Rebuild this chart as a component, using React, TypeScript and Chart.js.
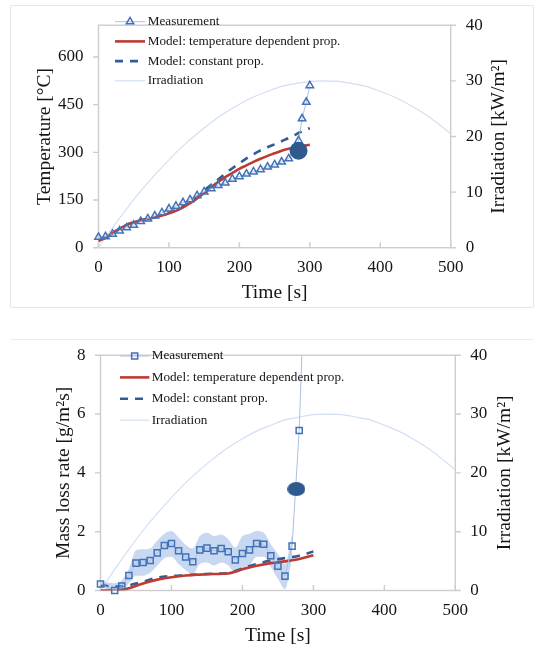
import React, { useEffect, useRef } from "react";
import { Chart, registerables } from "chart.js";

Chart.register(...registerables);

// ---------------- shared text / ticks ----------------
const timeTitle = "Time [s]";
const irradiationTitle = "Irradiation [kW/m²]";
const temperatureTitle = "Temperature [°C]";
const massLossTitle = "Mass loss rate [g/m²s]";
const legendLabels = [
  "Measurement",
  "Model: temperature dependent prop.",
  "Model: constant prop.",
  "Irradiation",
];

const timeTicks = [0, 100, 200, 300, 400, 500];
const irradiationTicks = [0, 10, 20, 30, 40];
const temperatureTicks = [0, 150, 300, 450, 600];
const massLossTicks = [0, 2, 4, 6, 8];

// ---------------- irradiation (both panels) ----------------
const irradiationTime = [0, 20, 40, 60, 80, 100, 120, 140, 160, 180, 200, 220, 240, 260, 280, 300, 320, 340, 360, 380, 400, 420, 440, 460, 480, 500];
const irradiationValue = [0, 3.6, 7.0, 10.2, 13.1, 15.8, 18.3, 20.5, 22.5, 24.3, 25.8, 27.1, 28.1, 29.0, 29.5, 29.9, 30.0, 29.9, 29.5, 29.0, 28.1, 27.1, 25.8, 24.3, 22.5, 20.5];

// ---------------- top panel: temperature ----------------
const tempMeasTime = [0, 10, 20, 30, 40, 50, 60, 70, 80, 90, 100, 110, 120, 130, 140, 150, 160, 170, 180, 190, 200, 210, 220, 230, 240, 250, 260, 270, 284, 289, 295, 300];
const tempMeasValue = [33, 35, 43, 53, 63, 71, 83, 91, 100, 110, 122, 131, 142, 151, 164, 176, 186, 196, 204, 216, 224, 232, 239, 246, 254, 261, 270, 280, 337, 406, 458, 510];

const tempModelTime = [0, 10, 20, 30, 40, 50, 60, 70, 80, 90, 100, 110, 120, 130, 140, 150, 160, 170, 180, 190, 200, 210, 220, 230, 240, 250, 260, 270, 280, 290, 300];
const tempModelDependent = [22, 32, 45, 60, 72, 80, 86, 90, 95, 101, 108, 116, 127, 140, 155, 172, 190, 207, 222, 235, 248, 259, 270, 280, 289, 297, 305, 311, 316, 320, 324];
const tempModelConstant = [22, 32, 45, 60, 72, 80, 86, 91, 96, 102, 110, 119, 130, 144, 160, 180, 198, 215, 233, 250, 265, 281, 294, 306, 316, 325, 335, 345, 356, 368, 376];

const tempIgnitionTime = [284];
const tempIgnitionValue = [305];

// ---------------- bottom panel: mass loss rate ----------------
const mlrMeasTime = [0, 20, 30, 40, 50, 60, 70, 80, 90, 100, 110, 120, 130, 140, 150, 160, 170, 180, 190, 200, 210, 220, 230, 240, 250, 260, 270, 280, 290];
const mlrMeasValue = [0.22, 0.0, 0.15, 0.51, 0.93, 0.95, 1.02, 1.28, 1.53, 1.6, 1.35, 1.14, 0.98, 1.38, 1.44, 1.35, 1.43, 1.32, 1.04, 1.26, 1.38, 1.6, 1.57, 1.18, 0.83, 0.49, 1.51, 5.44, 12.2];

const mlrBandTime = [0, 20, 30, 40, 50, 60, 70, 80, 90, 100, 110, 120, 130, 140, 150, 160, 170, 180, 190, 200, 210, 220, 230, 240, 250, 260, 270];
const mlrBandUpper = [0.3, 0.25, 0.35, 0.74, 1.37, 1.4, 1.43, 1.7, 1.93, 2.02, 1.8, 1.55, 1.43, 1.85, 1.96, 1.85, 1.9, 1.74, 1.46, 1.85, 1.93, 2.02, 1.96, 1.57, 1.24, 0.9, 1.9];
const mlrBandLower = [0.12, 0.0, 0.0, 0.25, 0.5, 0.5, 0.6, 0.85, 1.1, 1.15, 0.9, 0.7, 0.55, 0.9, 0.95, 0.85, 0.95, 0.85, 0.6, 0.7, 0.85, 1.15, 1.15, 0.8, 0.4, 0.05, 1.1];

const mlrModelTime = [0, 20, 40, 60, 80, 100, 120, 140, 160, 180, 200, 220, 240, 260, 280, 300];
const mlrModelDependent = [0.0, 0.0, 0.08, 0.24, 0.37, 0.45, 0.51, 0.54, 0.56, 0.58, 0.72, 0.84, 0.93, 0.99, 1.07, 1.2];
const mlrModelConstant = [0.18, 0.13, 0.18, 0.3, 0.44, 0.49, 0.52, 0.55, 0.57, 0.59, 0.75, 0.9, 1.02, 1.1, 1.18, 1.33];

const mlrIgnitionTime = [276];
const mlrIgnitionValue = [3.45];

// ---------------- styling ----------------
const FONT = "'Liberation Serif', 'Times New Roman', Times, serif";
const TEXT = "#151515";
const AXIS = "#cdcdcd";
const C_MEAS_LINE = "#a9c0e6";
const C_MEAS_MARK = "#4272b8";
const C_RED = "#bf3a33";
const C_DASH = "#2f5d98";
const C_IRR = "#d3dff2";
const C_IGN = "#2e5a8e";
const C_BAND = "rgba(186,206,236,0.8)";

const pts = (xs: number[], ys: number[]) => xs.map((x, i) => ({ x, y: ys[i] }));

function drawMarker(ctx: CanvasRenderingContext2D, style: string, x: number, y: number, r: number, color: string, lw: number) {
  ctx.save();
  ctx.strokeStyle = color;
  ctx.lineWidth = lw;
  ctx.beginPath();
  if (style === "triangle") {
    ctx.moveTo(x, y - r);
    ctx.lineTo(x + 0.866 * r, y + 0.5 * r);
    ctx.lineTo(x - 0.866 * r, y + 0.5 * r);
    ctx.closePath();
  } else {
    const s = Math.SQRT1_2 * r;
    ctx.rect(x - s, y - s, 2 * s, 2 * s);
  }
  ctx.stroke();
  ctx.restore();
}

type Decor = {
  frame: number[][];
  frameColor: string;
  tickLen: number;
  rightTitle: string;
  rightTitleX: number;
  legend: { x0: number; x1: number; textX: number; y0: number; gap: number; size: number };
};

function makeDecor(d: Decor) {
  return {
    id: "decor",
    beforeDatasetsDraw(chart: any) {
      const { ctx, chartArea: a, scales } = chart;
      ctx.save();
      ctx.setLineDash([]);
      ctx.strokeStyle = d.frameColor;
      ctx.lineWidth = 1;
      ctx.beginPath();
      d.frame.forEach((s) => {
        ctx.moveTo(s[0], s[1]);
        ctx.lineTo(s[2], s[3]);
      });
      ctx.stroke();
      ctx.strokeStyle = AXIS;
      ctx.lineWidth = 1.4;
      ctx.strokeRect(a.left, a.top, a.right - a.left, a.bottom - a.top);
      ctx.beginPath();
      scales.x.ticks.forEach((t: any) => {
        const px = scales.x.getPixelForValue(t.value);
        ctx.moveTo(px, a.bottom);
        ctx.lineTo(px, a.bottom - d.tickLen);
      });
      scales.y.ticks.forEach((t: any) => {
        const py = scales.y.getPixelForValue(t.value);
        ctx.moveTo(a.left - d.tickLen, py);
        ctx.lineTo(a.left, py);
      });
      scales.y1.ticks.forEach((t: any) => {
        const py = scales.y1.getPixelForValue(t.value);
        ctx.moveTo(a.right, py);
        ctx.lineTo(a.right + d.tickLen, py);
      });
      ctx.stroke();
      ctx.restore();
    },
    afterDraw(chart: any) {
      const { ctx, chartArea: a } = chart;
      // right axis title (reads bottom to top)
      ctx.save();
      ctx.translate(d.rightTitleX, (a.top + a.bottom) / 2);
      ctx.rotate(-Math.PI / 2);
      ctx.fillStyle = TEXT;
      ctx.font = `19.5px ${FONT}`;
      ctx.textAlign = "center";
      ctx.textBaseline = "middle";
      ctx.fillText(d.rightTitle, 0, 0);
      ctx.restore();
      // legend inside plot area
      const L = d.legend;
      const items = chart.data.datasets.filter((ds: any) => ds.legend);
      items.forEach((ds: any, i: number) => {
        const y = L.y0 + i * L.gap;
        ctx.save();
        ctx.strokeStyle = ds.borderColor;
        ctx.lineWidth = ds.borderWidth;
        ctx.setLineDash(ds.borderDash || []);
        ctx.beginPath();
        ctx.moveTo(L.x0, y);
        ctx.lineTo(L.x1, y);
        ctx.stroke();
        ctx.setLineDash([]);
        if (ds.pointRadius > 0 && typeof ds.pointStyle === "string") {
          drawMarker(ctx, ds.pointStyle, (L.x0 + L.x1) / 2, y, ds.pointRadius, ds.pointBorderColor, ds.pointBorderWidth);
        }
        ctx.fillStyle = TEXT;
        ctx.font = `${L.size}px ${FONT}`;
        ctx.textAlign = "left";
        ctx.textBaseline = "middle";
        ctx.fillText(ds.label, L.textX, y);
        ctx.restore();
      });
    },
  };
}

type Panel = {
  height: number;
  padTop: number;
  leftWidth: number;
  rightWidth: number;
  xHeight: number;
  yMax: number;
  yTicks: number[];
  yTitle: string;
  yTitlePad: number;
  xTitlePad: number;
  datasets: any[];
  decor: Decor;
};

function buildConfig(p: Panel): any {
  const tickFont = { family: FONT, size: 17 };
  const titleFont = { family: FONT, size: 19.5 };
  const setTicks = (vals: number[]) => (s: any) => {
    s.ticks = vals.map((v) => ({ value: v }));
  };
  return {
    type: "line",
    data: { datasets: p.datasets },
    plugins: [makeDecor(p.decor)],
    options: {
      animation: false,
      responsive: false,
      devicePixelRatio: 1,
      events: [],
      layout: { padding: { top: p.padTop, left: 0, right: 0, bottom: 0 } },
      plugins: { legend: { display: false }, tooltip: { enabled: false } },
      scales: {
        x: {
          type: "linear",
          position: "bottom",
          min: 0,
          max: 500,
          afterBuildTicks: setTicks(timeTicks),
          afterFit: (s: any) => {
            s.height = p.xHeight;
          },
          grid: { display: false, drawTicks: false },
          border: { display: false },
          ticks: { font: tickFont, color: TEXT, padding: 10, autoSkip: false, maxRotation: 0 },
          title: { display: true, text: timeTitle, font: titleFont, color: TEXT, padding: { top: 0, bottom: p.xTitlePad } },
        },
        y: {
          type: "linear",
          position: "left",
          min: 0,
          max: p.yMax,
          afterBuildTicks: setTicks(p.yTicks),
          afterFit: (s: any) => {
            s.width = p.leftWidth;
          },
          grid: { display: false, drawTicks: false },
          border: { display: false },
          ticks: { font: tickFont, color: TEXT, padding: 15 },
          title: { display: true, text: p.yTitle, font: titleFont, color: TEXT, padding: { top: p.yTitlePad, bottom: 0 } },
        },
        y1: {
          type: "linear",
          position: "right",
          min: 0,
          max: 40,
          afterBuildTicks: setTicks(irradiationTicks),
          afterFit: (s: any) => {
            s.width = p.rightWidth;
          },
          grid: { display: false, drawTicks: false },
          border: { display: false },
          ticks: { font: tickFont, color: TEXT, padding: 15 },
        },
      },
    },
  };
}

function measurementDataset(xs: number[], ys: number[], style: string, clip: any) {
  return {
    label: legendLabels[0],
    legend: true,
    data: pts(xs, ys),
    borderColor: C_MEAS_LINE,
    borderWidth: 1,
    pointStyle: style,
    pointRadius: 4.3,
    pointBorderColor: C_MEAS_MARK,
    pointBorderWidth: 1.5,
    pointBackgroundColor: "rgba(255,255,255,0)",
    tension: 0,
    clip,
  };
}

function modelDatasets(xs: number[], dep: number[], cons: number[]) {
  return [
    {
      label: legendLabels[1],
      legend: true,
      data: pts(xs, dep),
      borderColor: C_RED,
      borderWidth: 2.6,
      pointRadius: 0,
      cubicInterpolationMode: "monotone",
    },
    {
      label: legendLabels[2],
      legend: true,
      data: pts(xs, cons),
      borderColor: C_DASH,
      borderWidth: 2.6,
      borderDash: [8, 7],
      pointRadius: 0,
      cubicInterpolationMode: "monotone",
    },
  ];
}

function irradiationDataset() {
  return {
    label: legendLabels[3],
    legend: true,
    data: pts(irradiationTime, irradiationValue),
    yAxisID: "y1",
    borderColor: C_IRR,
    borderWidth: 1.2,
    pointRadius: 0,
    cubicInterpolationMode: "monotone",
  };
}

function topConfig() {
  return buildConfig({
    height: 330,
    padTop: 15.3,
    leftWidth: 98.5,
    rightWidth: 538 - 450.7,
    xHeight: 330 - 247.7,
    yMax: 700,
    yTicks: temperatureTicks,
    yTitle: temperatureTitle,
    yTitlePad: 32.9,
    xTitlePad: 25,
    datasets: [
      {
        label: "ignition",
        data: pts(tempIgnitionTime, tempIgnitionValue),
        showLine: false,
        pointStyle: "circle",
        pointRadius: 9,
        pointBackgroundColor: C_IGN,
        pointBorderWidth: 0,
      },
      measurementDataset(tempMeasTime, tempMeasValue, "triangle", false),
      ...modelDatasets(tempModelTime, tempModelDependent, tempModelConstant),
      irradiationDataset(),
    ],
    decor: {
      frame: [
        [10.5, 5.5, 533.5, 5.5],
        [10.5, 5.5, 10.5, 307.5],
        [10.5, 307.5, 533.5, 307.5],
        [533.5, 5.5, 533.5, 307.5],
      ],
      frameColor: "#e6e6e6",
      tickLen: 5.5,
      rightTitle: irradiationTitle,
      rightTitleX: 499.3,
      legend: { x0: 115, x1: 145, textX: 147.7, y0: 21.7, gap: 19.7, size: 13.2 },
    },
  });
}

function bottomConfig(ellipse: HTMLCanvasElement) {
  return buildConfig({
    height: 320,
    padTop: 20.7,
    leftWidth: 100.5,
    rightWidth: 538 - 455.3,
    xHeight: 320 - 260.5,
    yMax: 8,
    yTicks: massLossTicks,
    yTitle: massLossTitle,
    yTitlePad: 52.6,
    xTitlePad: 2.3,
    datasets: [
      {
        label: "ignition",
        data: pts(mlrIgnitionTime, mlrIgnitionValue),
        showLine: false,
        pointStyle: ellipse,
        pointRadius: 9,
      },
      measurementDataset(mlrMeasTime, mlrMeasValue, "rect", { left: 10, right: 10, top: 0, bottom: 10 }),
      ...modelDatasets(mlrModelTime, mlrModelDependent, mlrModelConstant),
      {
        label: "band upper",
        data: pts(mlrBandTime, mlrBandUpper),
        borderWidth: 0,
        borderColor: "rgba(0,0,0,0)",
        backgroundColor: C_BAND,
        pointRadius: 0,
        fill: "+1",
        cubicInterpolationMode: "monotone",
      },
      {
        label: "band lower",
        data: pts(mlrBandTime, mlrBandLower),
        borderWidth: 0,
        borderColor: "rgba(0,0,0,0)",
        pointRadius: 0,
        fill: false,
        cubicInterpolationMode: "monotone",
      },
      irradiationDataset(),
    ],
    decor: {
      frame: [[10.5, 9.5, 533.5, 9.5]],
      frameColor: "#ececec",
      tickLen: 5.5,
      rightTitle: irradiationTitle,
      rightTitleX: 504.5,
      legend: { x0: 120, x1: 149.3, textX: 151.7, y0: 26, gap: 21.4, size: 13.2 },
    },
  });
}

function makeEllipse(w: number, h: number, color: string) {
  const c = document.createElement("canvas");
  c.width = w;
  c.height = h;
  const g = c.getContext("2d")!;
  g.fillStyle = color;
  g.beginPath();
  g.ellipse(w / 2, h / 2, w / 2, h / 2, 0, 0, Math.PI * 2);
  g.fill();
  return c;
}

export default function App() {
  const topRef = useRef<HTMLCanvasElement>(null);
  const bottomRef = useRef<HTMLCanvasElement>(null);

  useEffect(() => {
    Chart.defaults.font.family = FONT;
    const c1 = new Chart(topRef.current!, topConfig());
    const c2 = new Chart(bottomRef.current!, bottomConfig(makeEllipse(18, 14, C_IGN)));
    return () => {
      c1.destroy();
      c2.destroy();
    };
  }, []);

  return (
    <div style={{ position: "absolute", left: 0, top: 0, width: 538, height: 650, background: "#fff" }}>
      <canvas ref={topRef} width={538} height={330} style={{ position: "absolute", left: 0, top: 0 }} />
      <canvas ref={bottomRef} width={538} height={320} style={{ position: "absolute", left: 0, top: 330 }} />
    </div>
  );
}
